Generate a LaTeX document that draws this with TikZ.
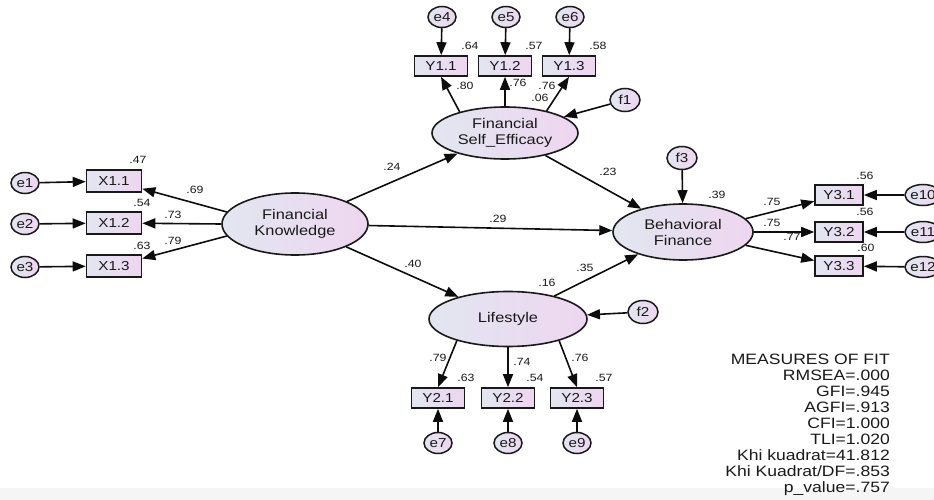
\documentclass[tikz,border=0pt]{standalone}
\usepackage{fontspec}
\setmainfont{Liberation Sans}[FakeStretch=1.17]
\usetikzlibrary{arrows.meta,shapes.geometric}
\definecolor{cl}{RGB}{226,230,240}
\definecolor{cr}{RGB}{238,214,240}
\definecolor{txt}{RGB}{25,25,25}
\definecolor{band}{RGB}{245,245,245}
\begin{document}
\begin{tikzpicture}[x=1pt,y=-1pt,
 every node/.style={text=txt},
 lat/.style={ellipse, draw=black!90, line width=1.6pt, left color=cl, right color=cr, inner sep=0pt, font=\fontsize{14}{16}\selectfont, align=center},
 obs/.style={rectangle, draw=black!90, line width=1.6pt, left color=cl, right color=cr, inner sep=0pt, minimum width=53pt, minimum height=20pt, font=\fontsize{13}{14}\selectfont},
 err/.style={ellipse, draw=black!90, line width=1.5pt, left color=cl, right color=cr, inner sep=0pt, minimum width=28pt, minimum height=21pt, font=\fontsize{13}{14}\selectfont},
 lbl/.style={font=\fontsize{10.5}{11}\selectfont, inner sep=0pt},
 arr/.style={-{Triangle[length=13pt,width=10pt]}, line width=1.6pt, draw=black!95},
]
\useasboundingbox (0,0) rectangle (934,500);
\fill[white] (0,0) rectangle (934,500);
\fill[band] (0,488) rectangle (934,500);

% latent variables
\node[lat, minimum width=146pt, minimum height=62pt] (fk) at (295,224) {Financial\\Knowledge};
\node[lat, minimum width=146pt, minimum height=52pt] (fse) at (505,133) {Financial\\Self\_Efficacy};
\node[lat, minimum width=140pt, minimum height=56pt] (bf) at (683,232) {Behavioral\\Finance};
\node[lat, minimum width=158pt, minimum height=55pt] (ls) at (508,319) {Lifestyle};

% observed X
\node[obs, minimum width=55pt, minimum height=22pt] (x11) at (114,181) {X1.1};
\node[obs, minimum width=55pt, minimum height=22pt] (x12) at (114,223) {X1.2};
\node[obs, minimum width=55pt, minimum height=22pt] (x13) at (114,266) {X1.3};
\node[err] (e1) at (25,183) {e1};
\node[err] (e2) at (25,224) {e2};
\node[err] (e3) at (25,267) {e3};

% observed Y1
\node[obs] (y11) at (441,66) {Y1.1};
\node[obs] (y12) at (505,66) {Y1.2};
\node[obs] (y13) at (569,66) {Y1.3};
\node[err] (e4) at (442,17) {e4};
\node[err] (e5) at (506,17) {e5};
\node[err] (e6) at (570,17) {e6};

% observed Y2
\node[obs] (y21) at (438,398) {Y2.1};
\node[obs] (y22) at (508,398) {Y2.2};
\node[obs] (y23) at (577,398) {Y2.3};
\node[err] (e7) at (438,443) {e7};
\node[err] (e8) at (508,443) {e8};
\node[err] (e9) at (577,443) {e9};

% observed Y3
\node[obs, minimum width=48pt] (y31) at (839,195) {Y3.1};
\node[obs, minimum width=48pt] (y32) at (839,232) {Y3.2};
\node[obs, minimum width=48pt] (y33) at (839,266) {Y3.3};
\node[err, minimum width=36pt] (e10) at (923,195) {e10};
\node[err, minimum width=36pt] (e11) at (923,232) {e11};
\node[err, minimum width=36pt] (e12) at (923,267) {e12};

% disturbances
\node[err, minimum width=30pt, minimum height=23pt] (f1) at (625,100) {f1};
\node[err, minimum width=30pt, minimum height=23pt] (f2) at (643,312) {f2};
\node[err, minimum width=30pt, minimum height=23pt] (f3) at (682,158) {f3};

% connectors
\draw[arr] (e1) -- (x11);
\draw[arr] (e2) -- (x12);
\draw[arr] (e3) -- (x13);
\draw[arr] (fk.170) -- (x11);
\draw[arr] (fk.west) -- (x12);
\draw[arr] (fk.190) -- (x13);

\draw[arr] (fk) -- (fse);
\draw[arr] (fk) -- (bf);
\draw[arr] (fk) -- (ls);
\draw[arr] (fse) -- (bf);
\draw[arr] (ls) -- (bf);
\draw[arr] (f1) -- (fse);
\draw[arr] (f2) -- (ls);
\draw[arr] (f3) -- (bf);

\draw[arr] (fse.155) -- (y11.south);
\draw[arr] (fse) -- (y12);
\draw[arr] (fse.28) -- (y13.south);
\draw[arr] (e4) -- (y11);
\draw[arr] (e5) -- (y12);
\draw[arr] (e6) -- (y13);

\draw[arr] (ls.203) -- (y21.north);
\draw[arr] (ls) -- (y22);
\draw[arr] (ls.-23) -- (y23.north);
\draw[arr] (e7) -- (y21);
\draw[arr] (e8) -- (y22);
\draw[arr] (e9) -- (y23);

\draw[arr] (bf.12) -- (y31);
\draw[arr] (bf.east) -- (y32);
\draw[arr] (bf.-12) -- (y33);
\draw[arr] (e10) -- (y31);
\draw[arr] (e11) -- (y32);
\draw[arr] (e12) -- (y33);

% labels
\node[lbl] (l47) at (138,160) {.47};
\node[lbl] (l54a) at (142,203) {.54};
\node[lbl] (l63a) at (142,246) {.63};
\node[lbl] (l69) at (195,190) {.69};
\node[lbl] (l73) at (173,215) {.73};
\node[lbl] (l79a) at (173,241) {.79};

\node[lbl] (l24) at (392,167) {.24};
\node[lbl] (l29) at (498,219) {.29};
\node[lbl] (l40) at (413,264) {.40};
\node[lbl] (l23) at (608,172) {.23};
\node[lbl] (l35) at (585,268) {.35};
\node[lbl] (l16) at (547,283) {.16};
\node[lbl] (l39) at (717,195) {.39};

\node[lbl] (l80) at (465,86) {.80};
\node[lbl] (l76a) at (518,83) {.76};
\node[lbl] (l76b) at (547,86) {.76};
\node[lbl] (l06) at (540,98) {.06};
\node[lbl] (l64) at (470,46) {.64};
\node[lbl] (l57a) at (534,46) {.57};
\node[lbl] (l58) at (598,46) {.58};

\node[lbl] (l56a) at (865,176) {.56};
\node[lbl] (l56b) at (865,212) {.56};
\node[lbl] (l60) at (866,248) {.60};
\node[lbl] (l75a) at (772,202) {.75};
\node[lbl] (l75b) at (772,223) {.75};
\node[lbl] (l77) at (792,237) {.77};

\node[lbl] (l79b) at (438,358) {.79};
\node[lbl] (l74) at (522,362) {.74};
\node[lbl] (l76c) at (580,358) {.76};
\node[lbl] (l63b) at (466,378) {.63};
\node[lbl] (l54b) at (535,378) {.54};
\node[lbl] (l57b) at (604,378) {.57};

% fit measures
\node[anchor=north east, align=right, inner sep=0pt, font=\fontsize{15}{16}\selectfont] (fit) at (890,354)
 {MEASURES OF FIT\\RMSEA=.000\\GFI=.945\\AGFI=.913\\CFI=1.000\\TLI=1.020\\Khi kuadrat=41.812\\Khi Kuadrat/DF=.853\\p\_value=.757};
\end{tikzpicture}
\end{document}
